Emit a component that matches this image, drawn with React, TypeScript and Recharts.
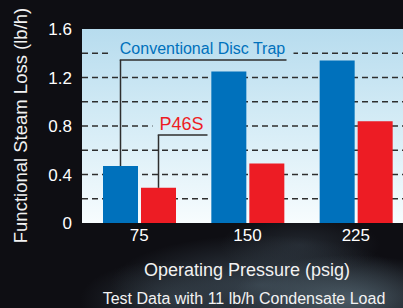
import React from 'react';
import { BarChart, Bar, XAxis, YAxis, CartesianGrid, LabelList } from 'recharts';

const categories = ['75', '150', '225'];
const conventional = [0.47, 1.25, 1.34];
const p46s = [0.29, 0.49, 0.84];
const yTicks = [0, 0.4, 0.8, 1.2, 1.6];
const gridValues = [0.2, 0.4, 0.6, 0.8, 1.0, 1.2, 1.4];
const seriesNames = ['Conventional Disc Trap', 'P46S'];
const yLabel = 'Functional Steam Loss (lb/h)';
const xLabel = 'Operating Pressure (psig)';
const subtitle = 'Test Data with 11 lb/h Condensate Load';

const data = categories.map((c, i) => ({ cat: c, conv: conventional[i], p46: p46s[i] }));

const BLUE = '#0071bc';
const RED = '#ed1c24';
const LINE = '#2e2e2e';

const W = 410;
const H = 308;
const M = { top: 29, right: 0, left: 0, bottom: 0 };
const Y_W = 82;
const X_H = 85;
const plotTop = M.top;
const plotBottom = H - X_H;

function makeAnnotation(opts: {
  text: string; color: string; fontSize: number; lineAt: number; textAt: number;
  lineLen: number; textOffset: number; padL: number; padR: number;
}) {
  return (props: any) => {
    const { x, y, width, height, value, index } = props;
    if (index !== 0) return null;
    const base = Number(y) + Number(height);
    const ppu = Number(height) / Number(value);
    const cx = Number(x) + Number(width) / 2;
    const ly = base - opts.lineAt * ppu;
    const ty = base - opts.textAt * ppu;
    const tx = cx + opts.textOffset;
    return (
      <g>
        <rect x={tx - opts.padL} y={ty - opts.fontSize * 0.6} width={opts.padL + opts.padR}
          height={opts.fontSize * 1.0} fill="url(#plotGrad)" />
        <line x1={cx} y1={Number(y)} x2={cx} y2={ly} stroke={LINE} strokeWidth={1.5} />
        <line x1={cx - 0.75} y1={ly} x2={cx + opts.lineLen} y2={ly} stroke={LINE} strokeWidth={1.5} />
        <text x={tx} y={ty + opts.fontSize * 0.3} textAnchor="middle" fill={opts.color}
          fontSize={opts.fontSize} fontFamily="Liberation Sans, Arial, sans-serif">{opts.text}</text>
      </g>
    );
  };
}

const convAnno = makeAnnotation({
  text: seriesNames[0], color: BLUE, fontSize: 16, lineAt: 1.345, textAt: 1.43,
  lineLen: 166, textOffset: 82, padL: 91, padR: 91,
});
const p46Anno = makeAnnotation({
  text: seriesNames[1], color: RED, fontSize: 18, lineAt: 0.725, textAt: 0.815,
  lineLen: 49, textOffset: 23, padL: 29, padR: 27,
});

const font = 'Liberation Sans, Arial, Helvetica, sans-serif';

export default function App() {
  return (
    <div style={{
      position: 'fixed', left: 0, top: 0, width: 403, height: 308, overflow: 'hidden',
      background:
        'radial-gradient(ellipse 120px 45px at 350px 300px, rgba(90,110,122,0.75), rgba(90,110,122,0) 100%),' +
        'radial-gradient(ellipse 150px 50px at 260px 285px, rgba(70,86,98,0.7), rgba(70,86,98,0) 100%),' +
        'radial-gradient(ellipse 90px 40px at 170px 300px, rgba(60,74,84,0.6), rgba(60,74,84,0) 100%),' +
        'radial-gradient(ellipse 80px 30px at 300px 245px, rgba(55,66,76,0.5), rgba(55,66,76,0) 100%),' +
        '#0e0e13',
    }}>
      <svg width={0} height={0} style={{ position: 'absolute' }}>
        <defs>
          <linearGradient id="plotGrad" gradientUnits="userSpaceOnUse" x1="0" y1={plotTop} x2="0" y2={plotBottom}>
            <stop offset="0%" stopColor="#b7dcee" />
            <stop offset="55%" stopColor="#d9eef7" />
            <stop offset="100%" stopColor="#f7fcfe" />
          </linearGradient>
        </defs>
      </svg>
      <BarChart width={W} height={H} data={data} margin={M} barSize={35} barGap={3}>
        <CartesianGrid vertical={false} fill="url(#plotGrad)" fillOpacity={1} stroke={LINE}
          strokeDasharray="6 4" strokeWidth={1.4} horizontalValues={gridValues} />
        <XAxis dataKey="cat" height={X_H} tickSize={0} tickMargin={6} axisLine={false}
          padding={{ left: 3, right: 0 }}
          tick={{ fill: '#ffffff', fontSize: 17, fontFamily: font }}
          label={{
            content: (p: any) => {
              const vb = p.viewBox;
              const cx = vb.x + vb.width / 2;
              return (
                <g fontFamily={font} fill="#f2f2f2" textAnchor="middle">
                  <text x={cx + 1} y={vb.y + 52.5} fontSize={18}>{xLabel}</text>
                  <text x={cx - 2} y={vb.y + 81} fontSize={16}>{subtitle}</text>
                </g>
              );
            },
          }} />
        <YAxis width={Y_W} domain={[0, 1.6]} ticks={yTicks} tickSize={0} tickMargin={10}
          axisLine={false} interval={0}
          tick={{ fill: '#ffffff', fontSize: 17, fontFamily: font }}
          label={{
            content: (p: any) => {
              const vb = p.viewBox;
              const cy = vb.y + vb.height / 2 - 0.5;
              return (
                <text x={27} y={cy} transform={`rotate(-90 27 ${cy})`} textAnchor="middle"
                  fill="#f2f2f2" fontSize={18.5} fontFamily={font}>{yLabel}</text>
              );
            },
          }} />
        <Bar dataKey="conv" fill={BLUE} isAnimationActive={false}>
          <LabelList dataKey="conv" content={convAnno} />
        </Bar>
        <Bar dataKey="p46" fill={RED} isAnimationActive={false}>
          <LabelList dataKey="p46" content={p46Anno} />
        </Bar>
      </BarChart>
    </div>
  );
}
